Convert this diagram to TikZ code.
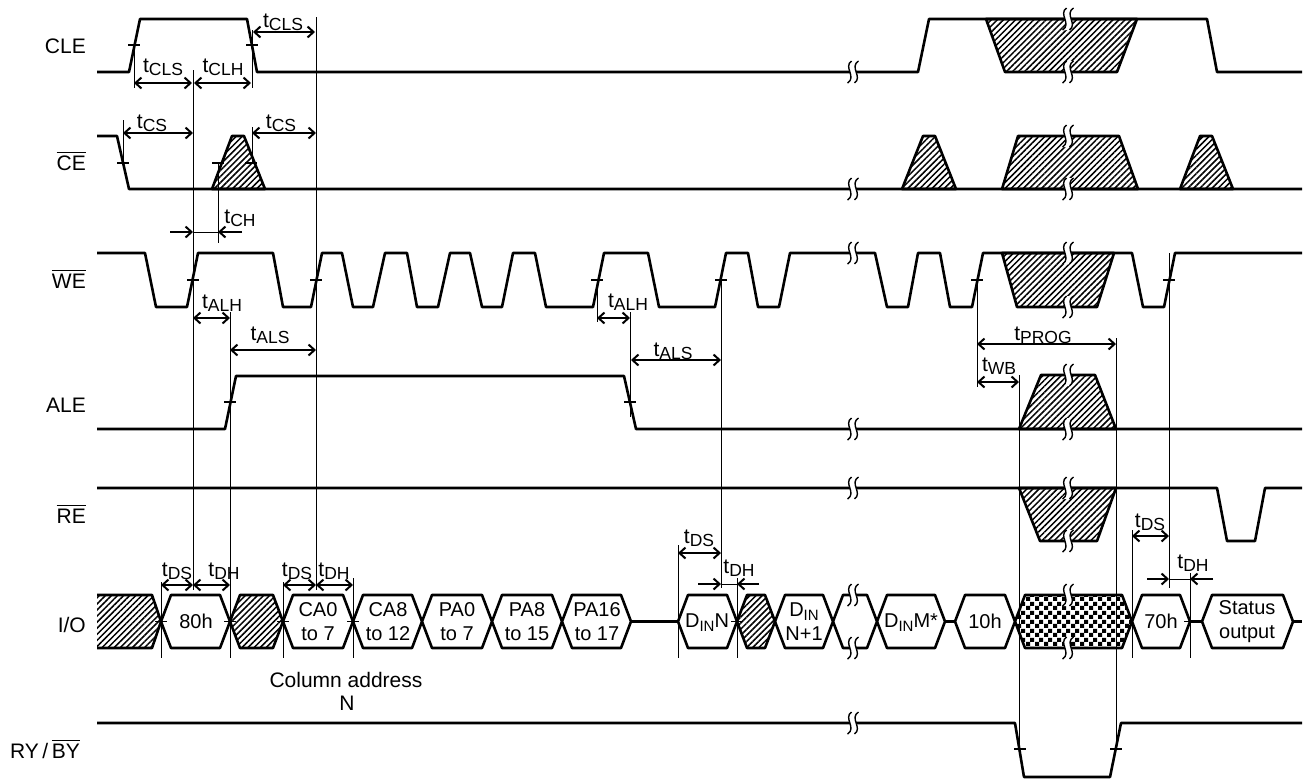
\documentclass[tikz,border=0pt]{standalone}
\usepackage{fontspec}
\setmainfont{Liberation Sans}
\usetikzlibrary{arrows.meta,patterns,patterns.meta}
\pgfdeclarepatternformonly{checkfine}{\pgfpointorigin}{\pgfqpoint{9pt}{9pt}}{\pgfqpoint{9pt}{9pt}}{%
  \pgfpathrectangle{\pgfpointorigin}{\pgfqpoint{4.5pt}{4.5pt}}%
  \pgfpathrectangle{\pgfqpoint{4.5pt}{4.5pt}}{\pgfqpoint{4.5pt}{4.5pt}}%
  \pgfusepath{fill}}
\newcommand\ovl[1]{\vbox{\hrule height 1.3pt\kern 2.5pt\hbox{#1}}}
\newcommand\tm[1]{\fontsize{21}{24}\selectfont t\raisebox{-3pt}{\fontsize{17.5}{17.5}\selectfont #1}}
\newcommand\din{D\raisebox{-4pt}{\fontsize{15}{15}\selectfont IN}}
\newcommand\hexa[3][]{\draw[sig,#1] (#2,621.5) -- ({#2+10},595) -- ({#3-10},595) -- (#3,621.5) -- ({#3-10},648) -- ({#2+10},648) -- cycle;}
\begin{document}
\begin{tikzpicture}[x=1pt,y=-1pt,font=\fontsize{20}{23.5}\selectfont,
  sig/.style={line width=2.6pt,line join=round},
  vline/.style={line width=1pt},
  tk/.style={line width=1.3pt},
  dimarr/.style={line width=2pt,{Straight Barb[length=6pt,width=11pt]}-{Straight Barb[length=6pt,width=11pt]}},
  inarr/.style={line width=2pt,-{Straight Barb[length=6pt,width=11pt]}},
  hatch/.style={pattern={Lines[angle=45,distance=4.3pt,line width=1.5pt]}},
  checker/.style={pattern=checkfine},
  lbl/.style={anchor=base east,inner sep=0pt,font=\fontsize{21}{24}\selectfont},
  tl/.style={anchor=base,inner sep=0pt},
  brk/.pic={
    \fill[white] (-1.5,-11) .. controls (-10,-5) and (4,5) .. (-5.5,11) -- (1.5,11) .. controls (10,5) and (-4,-5) .. (5.5,-11) -- cycle;
    \draw[line width=1.4pt] (-1.5,-11) .. controls (-10,-5) and (4,5) .. (-5.5,11);
    \draw[line width=1.4pt] (5.5,-11) .. controls (-4,-5) and (10,5) .. (1.5,11);
  }]
\useasboundingbox (0,0) rectangle (1305,780);

% ---------- hatched regions ----------
\draw[sig,hatch] (986,19) -- (1137,19) -- (1117,72) -- (1005,72) -- cycle;
\draw[sig,hatch] (212,189) -- (232,136) -- (244,136) -- (265,189) -- cycle;
\draw[sig,hatch] (902,189) -- (923,136) -- (935,136) -- (956,189) -- cycle;
\draw[sig,hatch] (1002,189) -- (1018,136) -- (1119,136) -- (1138,189) -- cycle;
\draw[sig,hatch] (1180,189) -- (1200,136) -- (1212,136) -- (1233,189) -- cycle;
\draw[sig,hatch] (1002,253) -- (1114,253) -- (1097,307) -- (1017,307) -- cycle;
\draw[sig,hatch] (1019,429) -- (1041,375) -- (1095,375) -- (1116,429) -- cycle;
\draw[sig,hatch] (1019,488) -- (1116,488) -- (1097,541) -- (1040,541) -- cycle;

% ---------- signals ----------
\draw[sig] (97,72) -- (129,72) -- (140,19) -- (247,19) -- (257,72) -- (918,72) -- (929,19) -- (1207,19) -- (1217,72) -- (1302,72);
\draw[sig] (97,136) -- (117,136) -- (129,189) -- (1302,189);
\draw[sig] (97,253) -- (145,253) -- (156,307) -- (187,307) -- (198,253) -- (273,253) -- (283,307) -- (311,307) -- (322,253)
  -- (342,253) -- (353,307) -- (373,307) -- (385,253) -- (407,253) -- (417,307) -- (438,307) -- (450,253)
  -- (470,253) -- (482,307) -- (502,307) -- (513,253) -- (535,253) -- (546,307) -- (593,307) -- (604,253)
  -- (648,253) -- (659,307) -- (715,307) -- (726,253) -- (748,253) -- (758,307) -- (779,307) -- (790,253)
  -- (875,253) -- (887,307) -- (908,307) -- (918,253) -- (940,253) -- (950,307) -- (972,307) -- (983,253)
  -- (1132,253) -- (1143,307) -- (1164,307) -- (1175,253) -- (1302,253);
\draw[sig] (97,429) -- (225,429) -- (236,376) -- (624,376) -- (636,429) -- (1302,429);
\draw[sig] (97,488) -- (1217,488) -- (1227,541) -- (1255,541) -- (1265,488) -- (1302,488);
\draw[sig] (97,723) -- (1015,723) -- (1024,777) -- (1110,777) -- (1121,723) -- (1302,723);

% ---------- I/O bus ----------
\fill[hatch] (97,595) -- (152,595) -- (161,621.5) -- (152,648) -- (97,648) -- cycle;
\draw[sig] (97,595) -- (152,595) -- (161,621.5) -- (152,648) -- (97,648);
\hexa{161}{230}
\hexa[hatch]{230}{283}
\hexa{283}{353}
\hexa{353}{422}
\hexa{422}{492}
\hexa{492}{562}
\hexa{562}{631}
\draw[sig] (631,621.5) -- (678,621.5);
\hexa{678}{737}
\hexa[hatch]{737}{775}
\hexa{775}{833}
\hexa{833}{877}
\hexa{877}{945}
\draw[sig] (945,621.5) -- (955,621.5);
\hexa{955}{1015}
\hexa[checker]{1015}{1132}
\hexa{1132}{1190}
\draw[sig] (1190,621.5) -- (1202,621.5);
\hexa{1202}{1293}
\draw[sig] (1293,621.5) -- (1302,621.5);

% ---------- vertical reference lines ----------
\foreach \x/\ya/\yb in {134/44/88, 252/30/88, 193/70/590, 316/17/590, 123/120/165, 252/127/163,
  218/163/243, 230/312/658, 161/582/658, 283/582/658, 353/578/658, 597/280/322, 630/312/417,
  721/280/588, 678/545/658, 737/578/658, 977/280/387, 1019/375/749, 1116/338/749,
  1169/253/588, 1132/530/658, 1190/573/658}
  \draw[vline] (\x,\ya) -- (\x,\yb);

% ---------- ticks ----------
\foreach \x/\y in {134/45, 252/45, 123/163, 218/163, 251/163, 193/280, 316/280, 597/280, 721/280,
  977/280, 1169/280, 230/402, 630/402, 161/621.5, 230/621.5, 283/621.5, 353/621.5, 737/621.5,
  1190/621.5, 1020/749, 1116/749}
  \draw[tk] (\x-6,\y) -- (\x+6,\y);

% ---------- dimension arrows ----------
\draw[dimarr] (253,32) -- (315,32);
\draw[dimarr] (134,83) -- (192,83);
\draw[dimarr] (194,83) -- (251,83);
\draw[dimarr] (123,133) -- (193,133);
\draw[dimarr] (252,133) -- (316,133);
\draw[inarr] (170,232) -- (193,232);
\draw[inarr] (242,232) -- (218,232);
\draw[vline] (193,232) -- (218,232);
\draw[dimarr] (193,318) -- (230,318);
\draw[dimarr] (230,350) -- (316,350);
\draw[dimarr] (597,318) -- (630,318);
\draw[dimarr] (631,360) -- (721,360);
\draw[dimarr] (977,344) -- (1116,344);
\draw[dimarr] (977,382) -- (1019,382);
\draw[dimarr] (161,585) -- (193,585);
\draw[dimarr] (193,585) -- (230,585);
\draw[dimarr] (283,585) -- (316,585);
\draw[dimarr] (316,585) -- (353,585);
\draw[dimarr] (678,553) -- (721,553);
\draw[inarr] (698,584) -- (721,584);
\draw[inarr] (759,584) -- (737,584);
\draw[vline] (721,584) -- (737,584);
\draw[dimarr] (1132,536) -- (1169,536);
\draw[inarr] (1147,579) -- (1169,579);
\draw[inarr] (1213,579) -- (1190,579);
\draw[vline] (1169,579) -- (1190,579);

% ---------- breaks ----------
\foreach \y in {72,189,253,429,488,723,595,648}
  \pic at (853,\y) {brk};
\foreach \y in {19,72,136,189,253,307,375,429,488,541,595,648}
  \pic at (1068,\y) {brk};

% ---------- signal names ----------
\node[lbl] (nCLE) at (86,53) {CLE};
\node[lbl] (nCE) at (86,170) {\ovl{CE}};
\node[lbl] (nWE) at (86,288) {\ovl{WE}};
\node[lbl] (nALE) at (86,412) {ALE};
\node[lbl] (nRE) at (86,523) {\ovl{RE}};
\node[lbl] (nIO) at (86,632) {I/O};
\node[lbl] (nRB) at (80,758) {RY\,/\,\ovl{BY}};

% ---------- timing labels ----------
\node[tl] (l1) at (283,27) {\tm{CLS}};
\node[tl] (l2) at (163,72) {\tm{CLS}};
\node[tl] (l3) at (223,72) {\tm{CLH}};
\node[tl] (l4) at (152,128) {\tm{CS}};
\node[tl] (l5) at (281,128) {\tm{CS}};
\node[tl] (l6) at (240,223) {\tm{CH}};
\node[tl] (l7) at (222,308) {\tm{ALH}};
\node[tl] (l8) at (270,340) {\tm{ALS}};
\node[tl] (l9) at (628,307) {\tm{ALH}};
\node[tl] (l10) at (673,356) {\tm{ALS}};
\node[tl] (l11) at (1043,340) {\tm{PROG}};
\node[tl] (l12) at (999,371) {\tm{WB}};
\node[tl] (l13) at (177,576) {\tm{DS}};
\node[tl] (l14) at (224,576) {\tm{DH}};
\node[tl] (l15) at (297,576) {\tm{DS}};
\node[tl] (l16) at (334,576) {\tm{DH}};
\node[tl] (l17) at (699,543) {\tm{DS}};
\node[tl] (l18) at (739,573) {\tm{DH}};
\node[tl] (l19) at (1150,527) {\tm{DS}};
\node[tl] (l20) at (1193,568) {\tm{DH}};

% ---------- bus contents ----------
\node (d1) at (196,621.5) {80h};
\node[align=center] (d2) at (318,621.5) {CA0\\to 7};
\node[align=center] (d3) at (388,621.5) {CA8\\to 12};
\node[align=center] (d4) at (457,621.5) {PA0\\to 7};
\node[align=center] (d5) at (527,621.5) {PA8\\to 15};
\node[align=center] (d6) at (597,621.5) {PA16\\to 17};
\node (d7) at (707,623) {\din N};
\node[align=center] (d8) at (804,621.5) {\din\\N+1};
\node (d9) at (911,623) {\din M*};
\node (d10) at (985,621.5) {10h};
\node (d11) at (1161,621.5) {70h};
\node[align=center] (d12) at (1247,621.5) {Status\\output};
\node[tl,font=\fontsize{21}{24}\selectfont] (c1) at (346,687) {Column address};
\node[tl,font=\fontsize{21}{24}\selectfont] (c2) at (347,710) {N};
\end{tikzpicture}
\end{document}
